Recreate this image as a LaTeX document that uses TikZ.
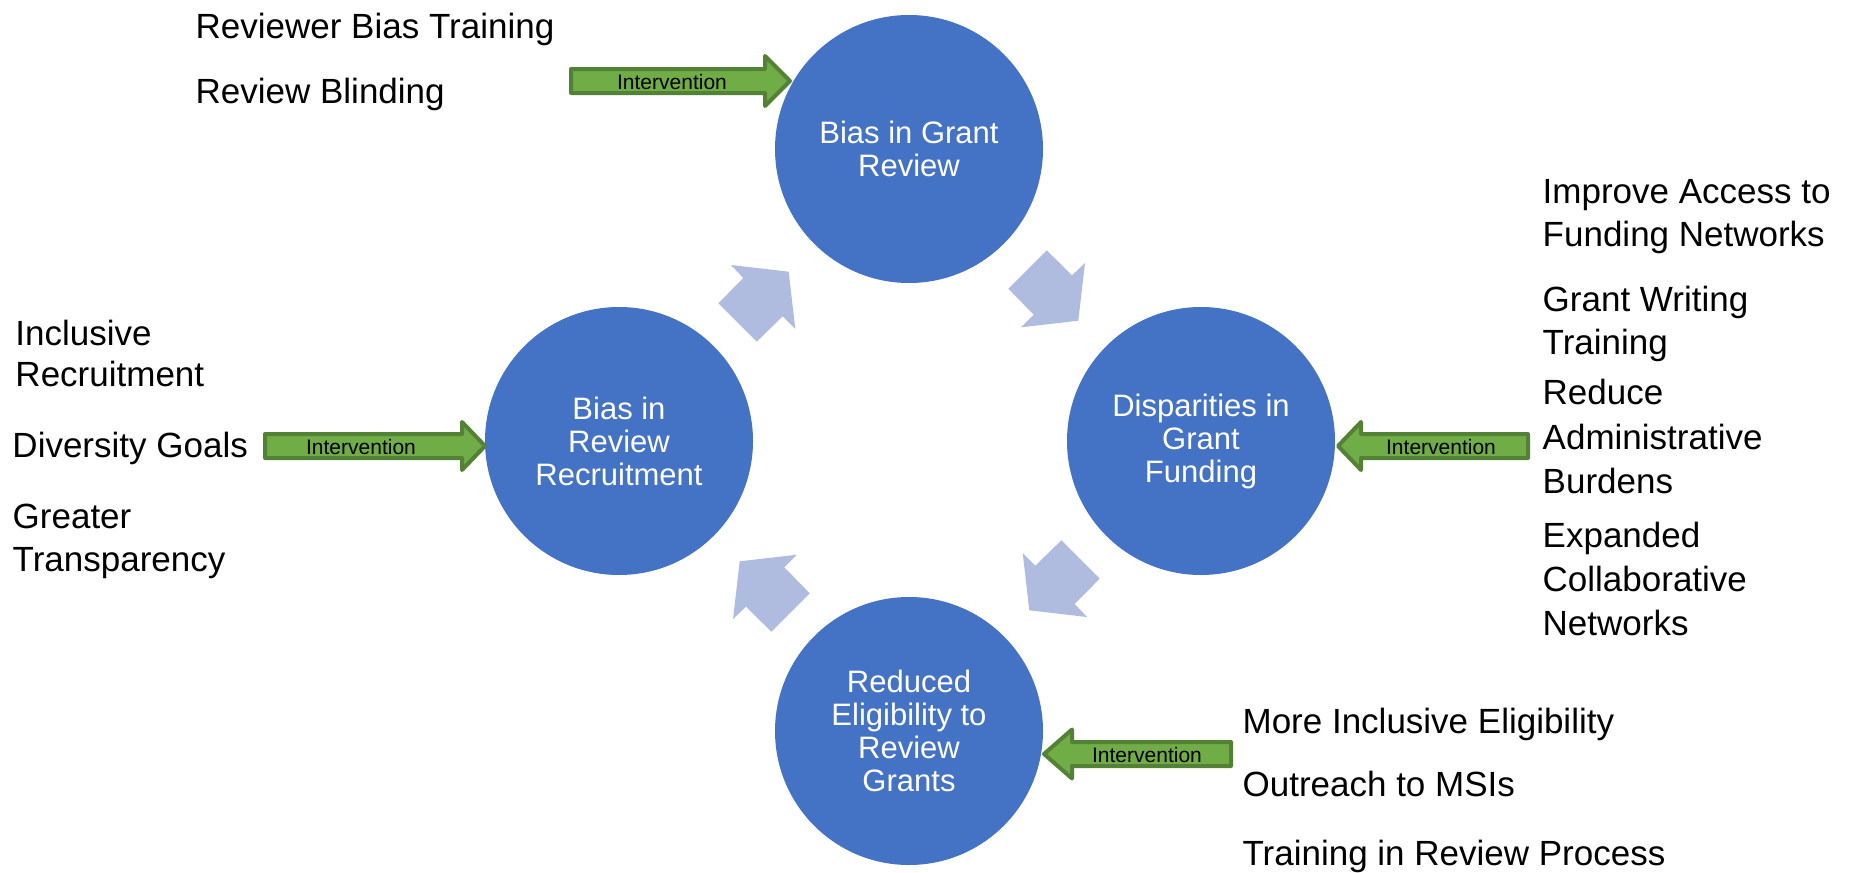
\documentclass[tikz,border=0pt]{standalone}
\usepackage{fontspec}
\setmainfont{Liberation Sans}
\definecolor{circblue}{RGB}{68,114,196}
\definecolor{blkblue}{RGB}{176,188,223}
\definecolor{gfill}{RGB}{112,173,71}
\definecolor{gline}{RGB}{83,129,53}
\begin{document}
\begin{tikzpicture}[x=1bp,y=-1bp,
  circ/.style={circle, fill=circblue, minimum size=268bp, inner sep=0pt, text=white, align=center, font=\fontsize{31bp}{33bp}\selectfont},
  lbl/.style={anchor=base west, inner sep=0pt, font=\fontsize{35bp}{42bp}\selectfont},
  cycarrow/.style={fill=blkblue},
  intv/.style={draw=gline, fill=gfill, line width=4bp, line join=round},
  intvtext/.style={inner sep=0pt, font=\fontsize{21bp}{21bp}\selectfont}]
\useasboundingbox (0,0) rectangle (1850,873);

% circles
\node[circ] (review)  at (909,149)  {Bias in Grant\\Review};
\node[circ] (funding) at (1201,441) {Disparities in\\Grant\\Funding};
\node[circ] (elig)    at (909,731)  {Reduced\\Eligibility to\\Review\\Grants};
\node[circ] (recruit) at (619,441)  {Bias in\\Review\\Recruitment};

% cycle block arrows
\fill[cycarrow] (731,265) -- (788.7,271.7) -- (795.3,329) -- (782.7,316.3) -- (756.7,341.7) -- (718.3,303.3) -- (743.3,278) -- cycle;
\fill[cycarrow] (1085,263) -- (1078.3,320.7) -- (1021,327.3) -- (1033.7,314.7) -- (1008.3,288.7) -- (1046.7,250.3) -- (1072,275.3) -- cycle;
\fill[cycarrow] (1087,617) -- (1029.3,610.3) -- (1022.7,553) -- (1035.3,565.7) -- (1061.3,540.3) -- (1099.7,578.7) -- (1074.7,604) -- cycle;
\fill[cycarrow] (733,619) -- (739.7,561.3) -- (797,554.7) -- (784.3,567.3) -- (809.7,593.3) -- (771.3,631.7) -- (746,606.7) -- cycle;

% intervention arrows
\draw[intv] (571,69) -- (765,69) -- (765,56) -- (790,81) -- (765,106) -- (765,93) -- (571,93) -- cycle;
\node[intvtext] (i1) at (672,82) {Intervention};
\draw[intv] (265,434) -- (462,434) -- (462,422) -- (485,446) -- (462,470) -- (462,458) -- (265,458) -- cycle;
\node[intvtext] (i2) at (361,447) {Intervention};
\draw[intv] (1528,434) -- (1361,434) -- (1361,422) -- (1338,446) -- (1361,470) -- (1361,458) -- (1528,458) -- cycle;
\node[intvtext] (i3) at (1441,447) {Intervention};
\draw[intv] (1231,742) -- (1072,742) -- (1072,729.5) -- (1044,754) -- (1072,778.5) -- (1072,766) -- (1231,766) -- cycle;
\node[intvtext] (i4) at (1147,755) {Intervention};

% top-left texts
\node[lbl] (t1) at (195.5,38.7) {Reviewer Bias Training};
\node[lbl] (t2) at (195.5,103.7) {Review Blinding};

% left texts
\node[lbl] (l1) at (15.3,345) {Inclusive};
\node[lbl] (l2) at (15.3,386.7) {Recruitment};
\node[lbl] (l3) at (12.3,457.3) {Diversity Goals};
\node[lbl] (l4) at (12.5,528) {Greater};
\node[lbl] (l5) at (12.5,571.7) {Transparency};

% right texts
\node[lbl] (r1) at (1542.5,203.5) {Improve Access to};
\node[lbl] (r2) at (1542.5,246) {Funding Networks};
\node[lbl] (r3) at (1542.5,311) {Grant Writing};
\node[lbl] (r4) at (1542.5,354.5) {Training};
\node[lbl] (r5) at (1542.5,404.5) {Reduce};
\node[lbl] (r6) at (1542.5,449) {Administrative};
\node[lbl] (r7) at (1542.5,493.5) {Burdens};
\node[lbl] (r8) at (1542.5,547) {Expanded};
\node[lbl] (r9) at (1542.5,591.5) {Collaborative};
\node[lbl] (r10) at (1542.5,635.5) {Networks};

% bottom-right texts
\node[lbl] (b1) at (1242.4,733.3) {More Inclusive Eligibility};
\node[lbl] (b2) at (1242.4,796.7) {Outreach to MSIs};
\node[lbl] (b3) at (1242.4,865) {Training in Review Process};
\end{tikzpicture}
\end{document}
